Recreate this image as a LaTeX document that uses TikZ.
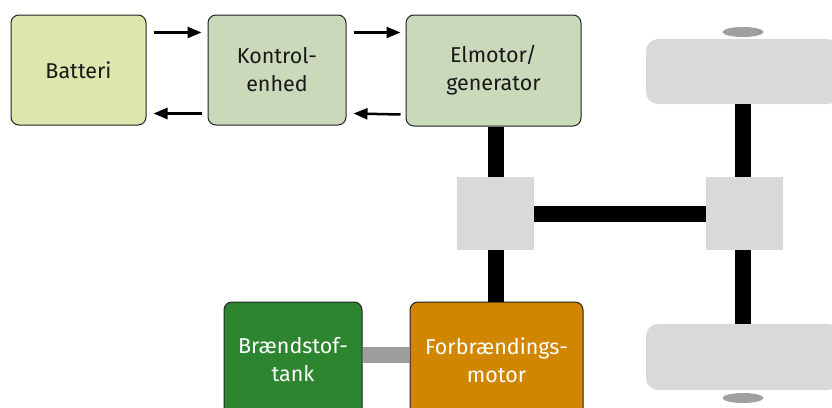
\documentclass[tikz,border=0pt]{standalone}
\usepackage{fontspec}
\setmainfont{Fira Sans}
\usetikzlibrary{arrows.meta}

\definecolor{battfill}{HTML}{DFE6AD}
\definecolor{unitfill}{HTML}{CBD9BB}
\definecolor{tankfill}{HTML}{2E8530}
\definecolor{engfill}{HTML}{D08600}
\definecolor{partgray}{HTML}{D8D9DB}
\definecolor{fuelgray}{HTML}{9D9D9D}
\definecolor{hubgray}{HTML}{A0A0A0}
\definecolor{edge}{HTML}{222222}

\begin{document}
\begin{tikzpicture}[x=1pt, y=-1pt,
    box/.style={draw=edge, line width=1pt, rounded corners=8pt, align=center,
        font=\fontsize{21.5}{28}\selectfont, text=black!90},
    gear/.style={fill=partgray, minimum width=77pt, minimum height=73pt},
    wheel/.style={fill=partgray, rounded corners=12pt, minimum width=194pt},
    shaft/.style={line width=16pt, black},
    fuel/.style={line width=16pt, fuelgray},
    arr/.style={line width=2.5pt, -{Triangle[length=14pt, width=11pt]}}]
    \clip (0, 0) rectangle (832, 407);

    \node[box, fill=battfill, minimum width=135pt, minimum height=110pt] (bat) at (78.5, 70) {Batteri};
    \node[box, fill=unitfill, minimum width=138pt, minimum height=110pt] (ctrl) at (277, 70) {Kontrol-\\enhed};
    \node[box, fill=unitfill, minimum width=175pt, minimum height=111pt] (emot) at (493.5, 70.5) {Elmotor/\\generator};
    \node[box, fill=tankfill, text=white, minimum width=138pt, minimum height=116pt] (tank) at (293, 360) {Brændstof-\\tank};
    \node[box, fill=engfill, text=white, minimum width=173pt, minimum height=116pt] (forb) at (496.5, 360) {Forbrændings-\\motor};

    \node[gear] (gb1) at (495.5, 213.5) {};
    \node[gear] (gb2) at (744.5, 213.5) {};
    \node[wheel, minimum height=65pt] (whl1) at (743, 71.5) {};
    \node[wheel, minimum height=66pt] (whl2) at (743, 357) {};

    % hubs
    \fill[hubgray] (743, 32) ellipse (20.5 and 5);
    \fill[hubgray] (743, 398) ellipse (20.5 and 5);

    % signal arrows
    \draw[arr] ([xshift=7pt, yshift=-18pt]bat.north east) -- ([xshift=-6pt, yshift=-18pt]ctrl.north west);
    \draw[arr] ([xshift=-6pt, yshift=12pt]ctrl.south west) -- ([xshift=7pt, yshift=12pt]bat.south east);
    \draw[arr] ([xshift=7pt, yshift=-18pt]ctrl.north east) -- ([xshift=-5pt, yshift=-18pt]emot.north west);
    \draw[arr] ([xshift=-5pt, yshift=12pt]emot.south west) -- ([xshift=7pt, yshift=12pt]ctrl.south east);

    % drive train
    \draw[shaft] (gb1.north) -- (gb1.north |- emot.south);
    \draw[shaft] (gb1.south) -- (gb1.south |- forb.north);
    \draw[shaft] (gb1) -- (gb2);
    \draw[shaft] ([xshift=-1.5pt]gb2.north) -- ([xshift=-1.5pt]gb2.north |- whl1.south);
    \draw[shaft] ([xshift=-1.5pt]gb2.south) -- ([xshift=-1.5pt]gb2.south |- whl2.north);
    \draw[fuel] ([yshift=5pt]tank.east) -- ([yshift=5pt]forb.west);
\end{tikzpicture}
\end{document}
